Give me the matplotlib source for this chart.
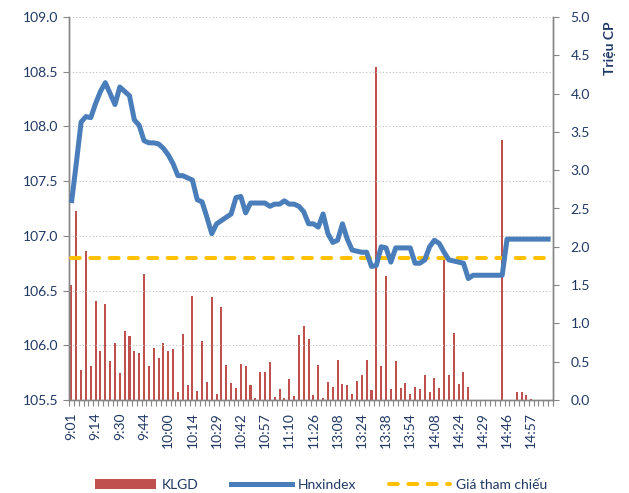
import matplotlib
matplotlib.use("Agg")
import matplotlib.pyplot as plt
from matplotlib.lines import Line2D
from matplotlib.patches import Patch
import numpy as np

plt.rcParams['font.family'] = ['Lato', 'Noto Sans', 'DejaVu Sans']

tick_labels = ['9:01', '9:14', '9:30', '9:44', '10:00', '10:14', '10:29', '10:42',
               '10:57', '11:10', '11:26', '13:08', '13:24', '13:38', '13:54',
               '14:08', '14:24', '14:29', '14:46', '14:57']

hnxindex = [107.30, 107.66, 108.04, 108.09, 108.08, 108.21, 108.32, 108.40, 108.30, 108.20,
            108.36, 108.32, 108.28, 108.06, 108.01, 107.87, 107.85, 107.85, 107.84, 107.80,
            107.74, 107.66, 107.55, 107.55, 107.53, 107.51, 107.33, 107.31, 107.17, 107.02,
            107.11, 107.14, 107.17, 107.20, 107.35, 107.36, 107.21, 107.30, 107.30, 107.30,
            107.30, 107.27, 107.29, 107.29, 107.32, 107.29, 107.29, 107.27, 107.22, 107.11,
            107.11, 107.08, 107.20, 107.02, 106.94, 106.96, 107.11, 106.97, 106.87, 106.86,
            106.85, 106.85, 106.72, 106.73, 106.90, 106.89, 106.76, 106.89, 106.89, 106.89,
            106.89, 106.75, 106.75, 106.78, 106.90, 106.96, 106.93, 106.85, 106.78, 106.77,
            106.76, 106.75, 106.61, 106.64, 106.64, 106.64, 106.64, 106.64, 106.64, 106.64,
            106.97, 106.97, 106.97, 106.97, 106.97, 106.97, 106.97, 106.97, 106.97, 106.97]

klgd = [1.50, 2.47, 0.39, 1.95, 0.44, 1.29, 0.64, 1.25, 0.51, 0.74,
        0.35, 0.90, 0.83, 0.64, 0.61, 1.65, 0.44, 0.68, 0.55, 0.74,
        0.64, 0.67, 0.11, 0.86, 0.20, 1.36, 0.12, 0.77, 0.23, 1.35,
        0.08, 1.21, 0.46, 0.22, 0.16, 0.47, 0.45, 0.19, 0.02, 0.37,
        0.36, 0.50, 0.04, 0.14, 0.03, 0.27, 0.05, 0.85, 0.97, 0.80,
        0.06, 0.46, 0.03, 0.23, 0.17, 0.52, 0.21, 0.20, 0.08, 0.25,
        0.32, 0.52, 0.13, 4.35, 0.45, 1.62, 0.15, 0.51, 0.16, 0.22,
        0.08, 0.17, 0.14, 0.32, 0.10, 0.29, 0.16, 1.83, 0.32, 0.87,
        0.21, 0.37, 0.17, 0.00, 0.00, 0.00, 0.00, 0.00, 0.00, 3.39,
        0.00, 0.00, 0.10, 0.11, 0.06, 0.01, 0.00, 0.00, 0.00, 0.00]

ref_price = 106.8

TXT = '#1F3864'
SPINE = '#868686'
RED = '#C0504D'
BLUE = '#4A7EBB'
YEL = '#FFC000'

n = len(hnxindex)
x = np.arange(n)

fig = plt.figure(figsize=(6.29, 4.93), dpi=100)
ax = fig.add_axes([69/629, 93/493, 484/629, 383/493])
ax2 = ax.twinx()

# bars on secondary axis (behind)
ax2.bar(x, klgd, width=0.42, color=RED, edgecolor='none', zorder=2)
ax2.set_ylim(0, 5.0)
ax2.set_yticks(np.arange(0, 5.01, 0.5))
ax2.set_yticklabels([f'{v:.1f}' for v in np.arange(0, 5.01, 0.5)])

# lines on primary axis (front)
ax.set_zorder(ax2.get_zorder() + 1)
ax.patch.set_visible(False)
ax.plot(x, hnxindex, color=BLUE, lw=3.6, solid_joinstyle='round', solid_capstyle='butt', zorder=4)
ax.plot(x, [ref_price] * n, color=YEL, lw=2.9, dashes=(2.2, 2.6), dash_capstyle='round', zorder=3)

ax.set_ylim(105.5, 109.0)
ax.set_yticks(np.arange(105.5, 109.01, 0.5))
ax.set_yticklabels([f'{v:.1f}' for v in np.arange(105.5, 109.01, 0.5)])
ax.set_xlim(-0.5, n - 0.5)
ax.set_xticks(np.arange(0, n, 5))
ax.set_xticklabels(tick_labels, rotation=90)
ax.set_xticks(np.arange(-0.5, n, 1), minor=True)

for a in (ax, ax2):
    a.spines['top'].set_visible(False)
    for s in ('left', 'right', 'bottom'):
        a.spines[s].set_color(SPINE)
        a.spines[s].set_linewidth(1.0)

ax.yaxis.grid(True, color='#BFBFBF', linestyle=(0, (1, 2)), lw=0.8)
ax.set_axisbelow(False)

ax.tick_params(axis='y', which='major', length=4.5, color=SPINE, labelsize=10, labelcolor=TXT, pad=3, direction='out')
ax.tick_params(axis='x', which='major', length=0, labelsize=10, labelcolor=TXT, pad=9)
ax.tick_params(axis='x', which='minor', length=4, color=SPINE, width=0.8, direction='out')
ax2.tick_params(axis='y', which='major', length=4.5, color=SPINE, labelsize=10, labelcolor=TXT, pad=8, direction='out')

fig.text(610/629, 1 - 48/493, 'Triệu CP', rotation=90, ha='center', va='center',
         fontsize=10, fontweight='bold', color=TXT)

handles = [Patch(facecolor=RED, edgecolor='none'),
           Line2D([0], [0], color=BLUE, lw=3.6),
           Line2D([0], [0], color=YEL, lw=2.9, dashes=(2.2, 2.6), dash_capstyle='round')]
fig.legend(handles, ['KLGD', 'Hnxindex', 'Giá tham chiếu'], loc='center',
           bbox_to_anchor=(321/629, 1 - 485/493), ncol=3, frameon=False,
           fontsize=10, labelcolor=TXT, handlelength=4.4, handleheight=0.7,
           handletextpad=0.45, columnspacing=2.3)

fig.savefig('out.png', dpi=100)
